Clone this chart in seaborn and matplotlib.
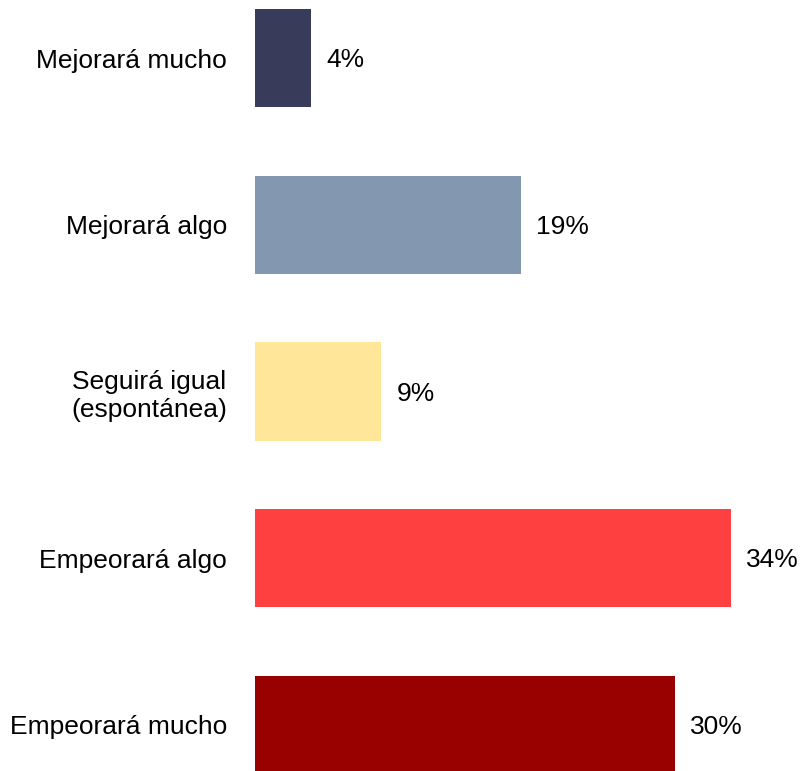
import matplotlib
matplotlib.use("Agg")
import matplotlib.pyplot as plt
import seaborn as sns
import pandas as pd

categories = ["Mejorará mucho", "Mejorará algo", "Seguirá igual\n(espontánea)",
              "Empeorará algo", "Empeorará mucho"]
values = [4, 19, 9, 34, 30]
colors = ["#383B5A", "#8497B0", "#FFE699", "#FF4040", "#990000"]

sns.set_theme(style="white")
plt.rcParams['font.family'] = ['Liberation Sans Narrow', 'Liberation Sans', 'DejaVu Sans']

df = pd.DataFrame({"cat": categories, "val": values})

fig = plt.figure(figsize=(8.02, 7.71), dpi=100)
ax = fig.add_axes([255 / 802, 0, 547 / 802, 1])

sns.barplot(data=df, x="val", y="cat", hue="cat", palette=colors, legend=False,
            width=0.588, ax=ax, saturation=1, linewidth=0)

for i, v in enumerate(values):
    ax.annotate(f"{v}%", xy=(v, i), xytext=(11, -1.5), textcoords="offset points",
                va="center", ha="left", fontsize=19, color="black")

ax.set_xlim(0, 547 / 14)
ax.set_ylim(4.276, -0.348)
ax.set_xlabel("")
ax.set_ylabel("")
ax.set_xticks([])
ax.tick_params(axis="y", length=0, pad=20, labelsize=19, labelcolor="black")
for lbl in ax.get_yticklabels():
    lbl.set_horizontalalignment("right")
    lbl.set_multialignment("center")
sns.despine(ax=ax, left=True, bottom=True)

fig.savefig("out.png", dpi=100)
